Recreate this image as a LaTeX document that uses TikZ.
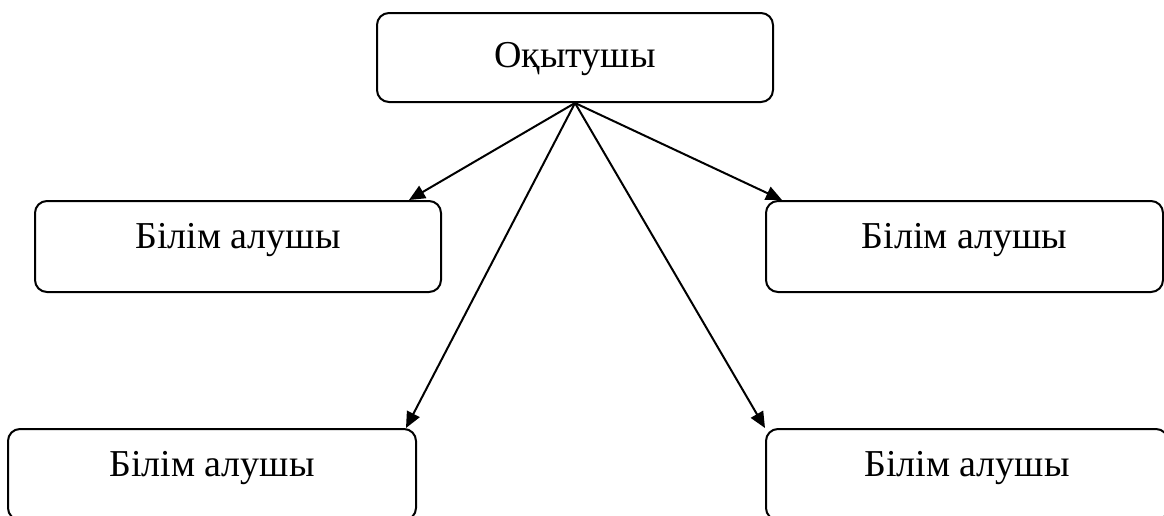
\documentclass[tikz,border=0pt]{standalone}
\usepackage{fontspec}
\setmainfont{Liberation Serif}
\usetikzlibrary{calc}
\usetikzlibrary{arrows.meta}

\tikzset{
	box/.style={draw, line width=2pt, rounded corners=12pt, minimum width=406pt, minimum height=91pt,
		inner sep=0pt, text height=28pt, text depth=24pt, font=\fontsize{38}{40}\selectfont},
	arr/.style={line width=2pt, -{Triangle[length=16pt,width=14pt]}}
}

\begin{document}
\begin{tikzpicture}[x=1pt,y=-1pt]
	\useasboundingbox (0,0) rectangle (1164,515);
	% teacher on top
	\node[box, minimum width=396pt, minimum height=89pt, text depth=8pt] (teacher) at (575,57.5) {Оқытушы};
	% learners
	\node[box] (lm) at (238,246.5) {Білім алушы};
	\node[box, minimum width=397pt] (rm) at (964.5,246.5) {Білім алушы};
	\node[box, minimum width=408pt] (lb) at (212,474.5) {Білім алушы};
	\node[box, minimum width=402pt] (rb) at (967,474.5) {Білім алушы};
	% arrows
	\draw[arr] (teacher.south) -- ($(lm.north east)+(-33,0)$);
	\draw[arr] (teacher.south) -- ($(rm.north west)+(17,0)$);
	\draw[arr] (teacher.south) -- ($(lb.north east)+(-11,0)$);
	\draw[arr] (teacher.south) -- (rb.north west);
\end{tikzpicture}
\end{document}
